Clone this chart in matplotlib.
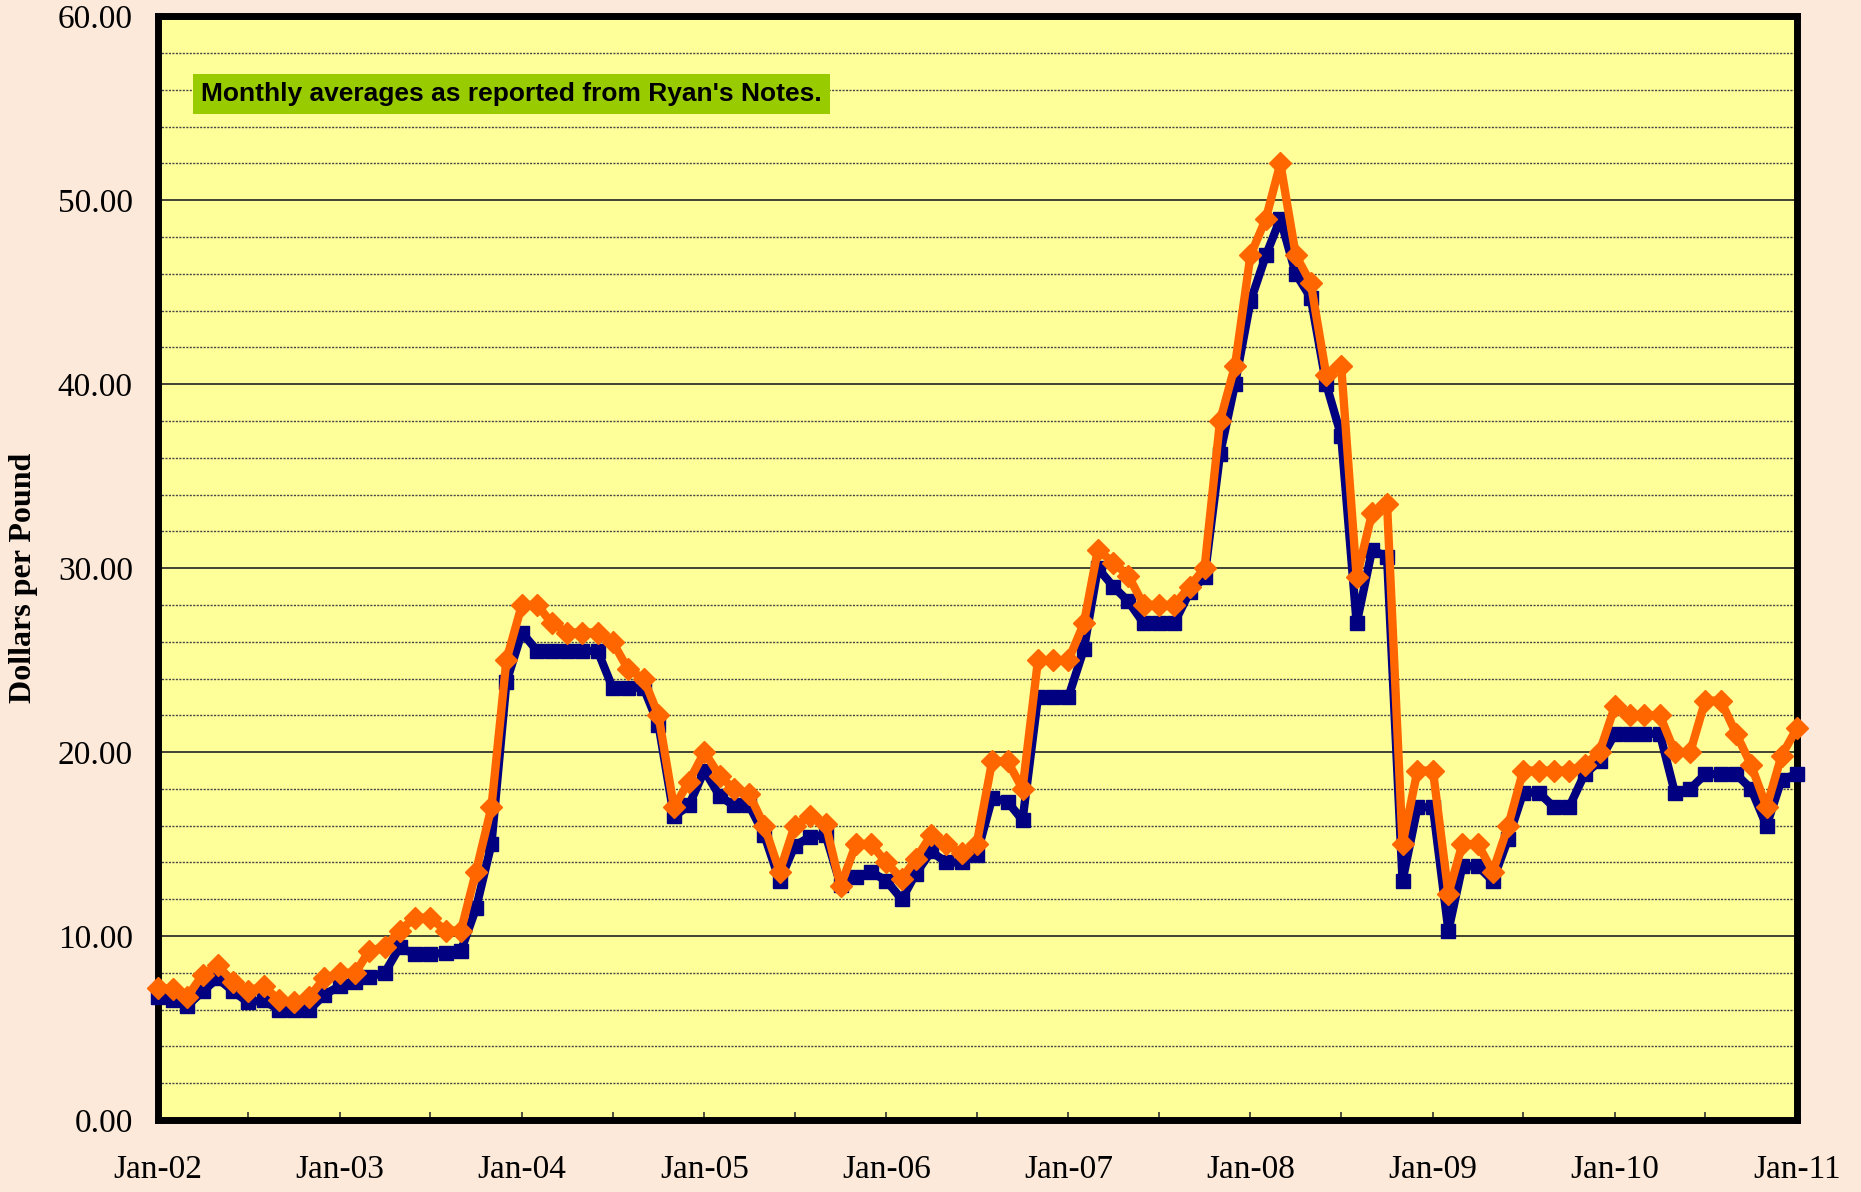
import matplotlib
matplotlib.use('Agg')
import matplotlib.pyplot as plt
import matplotlib.dates as mdates
from matplotlib.ticker import MultipleLocator, FormatStrFormatter
import numpy as np
import pandas as pd

# Datos mensuales (Jan-02 a Jan-11)
fechas = pd.date_range('2002-01-01', '2011-01-01', freq='MS')

precio_naranja = [7.2, 7.1, 6.7, 7.9, 8.4, 7.5, 7.0, 7.3, 6.5, 6.4, 6.7, 7.7,
                  8.0, 8.0, 9.2, 9.4, 10.3, 11.0, 11.0, 10.3, 10.3, 13.5, 17.0, 25.0,
                  28.0, 28.0, 27.0, 26.5, 26.5, 26.5, 26.0, 24.5, 24.0, 22.0, 17.0, 18.4,
                  20.0, 18.7, 18.0, 17.7, 16.0, 13.5, 16.0, 16.5, 16.1, 12.7, 15.0, 15.0,
                  14.0, 13.1, 14.2, 15.5, 15.0, 14.5, 15.0, 19.5, 19.5, 18.0, 25.0, 25.0,
                  25.0, 27.0, 31.0, 30.3, 29.6, 28.0, 28.0, 28.0, 29.0, 30.0, 38.0, 41.0,
                  47.0, 49.0, 52.0, 47.0, 45.5, 40.5, 41.0, 29.5, 33.0, 33.5, 15.0, 19.0,
                  19.0, 12.3, 15.0, 15.0, 13.5, 16.0, 19.0, 19.0, 19.0, 19.0, 19.3, 20.0,
                  22.5, 22.0, 22.0, 22.0, 20.0, 20.0, 22.8, 22.8, 21.0, 19.3, 17.0, 19.8,
                  21.3]

precio_azul = [6.7, 6.5, 6.2, 7.0, 7.7, 7.0, 6.4, 6.5, 6.0, 6.0, 6.0, 6.8,
               7.3, 7.5, 7.8, 8.0, 9.4, 9.0, 9.0, 9.1, 9.2, 11.5, 15.0, 23.8,
               26.5, 25.5, 25.5, 25.5, 25.5, 25.5, 23.5, 23.5, 23.5, 21.5, 16.5, 17.1,
               19.0, 17.6, 17.1, 17.1, 15.5, 13.0, 14.9, 15.4, 15.5, 12.8, 13.2, 13.5,
               13.0, 12.0, 13.4, 14.6, 14.0, 14.0, 14.4, 17.5, 17.3, 16.3, 23.0, 23.0,
               23.0, 25.6, 30.0, 29.0, 28.2, 27.0, 27.0, 27.0, 28.7, 29.5, 36.2, 40.0,
               44.5, 47.0, 49.0, 46.0, 44.7, 40.0, 37.2, 27.0, 31.0, 30.6, 13.0, 17.0,
               17.0, 10.3, 13.8, 13.8, 13.0, 15.3, 17.8, 17.8, 17.0, 17.0, 18.8, 19.5,
               21.0, 21.0, 21.0, 21.0, 17.8, 18.0, 18.8, 18.8, 18.8, 18.0, 16.0, 18.5,
               18.8]

nota = "Monthly averages as reported from Ryan's Notes."

fondo = '#FDE9DA'
fondo_ejes = '#FFFF99'

fig = plt.figure(figsize=(18.61, 11.92), dpi=100, facecolor=fondo)
ax = fig.add_axes([0.0848, 0.0604, 0.9656 - 0.0848, 0.9863 - 0.0604])
ax.set_facecolor(fondo_ejes)

ax.plot(fechas, precio_azul, color='#000080', linewidth=6, marker='s',
        markersize=10, clip_on=False, zorder=5)
ax.plot(fechas, precio_naranja, color='#FF6600', linewidth=6, marker='D',
        markersize=11.5, clip_on=False, zorder=6)

# eje y
ax.set_ylim(0, 60)
ax.yaxis.set_major_locator(MultipleLocator(10))
ax.yaxis.set_minor_locator(MultipleLocator(2))
ax.yaxis.set_major_formatter(FormatStrFormatter('%.2f'))
ax.grid(which='major', axis='y', color='#222222', linewidth=1.2, linestyle='-')
ax.grid(which='minor', axis='y', color='#444444', linewidth=1.0, linestyle=(0, (1.5, 1)))
ax.tick_params(axis='y', which='both', length=0, pad=18, labelsize=24)
for lab in ax.get_yticklabels():
    lab.set_family('Liberation Serif')

# eje x
ax.set_xlim(fechas[0], fechas[-1])
ax.xaxis.set_major_locator(mdates.YearLocator())
ax.xaxis.set_minor_locator(mdates.MonthLocator(bymonth=7))
ax.xaxis.set_major_formatter(mdates.DateFormatter('%b-%y'))
ax.tick_params(axis='x', which='both', direction='in', length=6, width=1.2,
               color='#333333', pad=25, labelsize=24)
for lab in ax.get_xticklabels():
    lab.set_family('Liberation Serif')

for lado in ax.spines.values():
    lado.set_linewidth(5)
    lado.set_color('black')
    lado.set_zorder(4)

fig.text(24 / 1861, 1 - 578 / 1192, 'Dollars per Pound', rotation=90,
         ha='center', va='center', fontsize=23, fontweight='bold',
         family='Liberation Serif')

ax.text(0.0265, 55.8, nota, transform=ax.get_yaxis_transform(), ha='left',
        va='center', fontsize=19, fontweight='bold', family='Liberation Sans',
        bbox=dict(boxstyle='square,pad=0.3', facecolor='#99CC00', edgecolor='none'),
        zorder=7)

plt.savefig('out.png', dpi=100, facecolor=fondo)
